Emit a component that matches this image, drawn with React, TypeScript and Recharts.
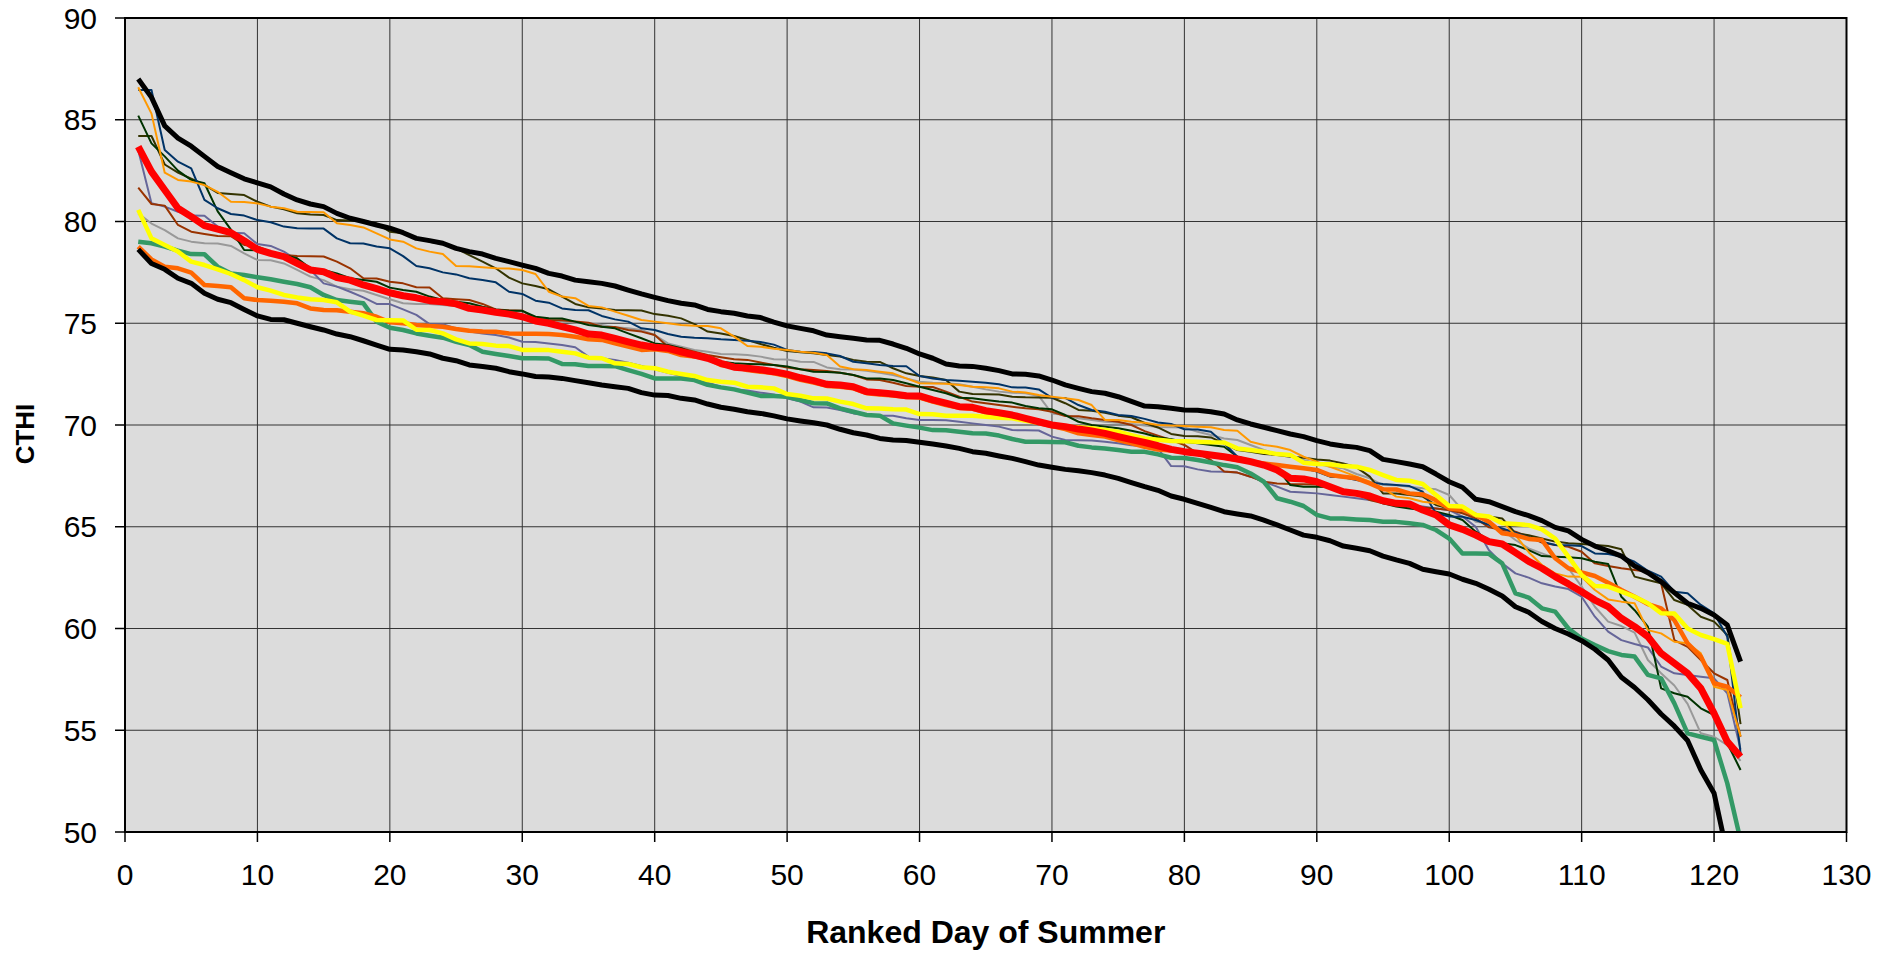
import React from 'react';
import { LineChart, Line, XAxis, YAxis, CartesianGrid, ReferenceArea } from 'recharts';

const FONT = '"Liberation Sans", Arial, Helvetica, sans-serif';

// categories: ranked day 1..122
const days: number[] = [
  1,2,3,4,5,6,7,8,9,10,11,12,13,14,15,16,17,18,19,20,
  21,22,23,24,25,26,27,28,29,30,31,32,33,34,35,36,37,38,39,40,
  41,42,43,44,45,46,47,48,49,50,51,52,53,54,55,56,57,58,59,60,
  61,62,63,64,65,66,67,68,69,70,71,72,73,74,75,76,77,78,79,80,
  81,82,83,84,85,86,87,88,89,90,91,92,93,94,95,96,97,98,99,100,
  101,102,103,104,105,106,107,108,109,110,111,112,113,114,115,116,117,118,119,120,
  121,122,
];

const xTicks = [0, 10, 20, 30, 40, 50, 60, 70, 80, 90, 100, 110, 120, 130];
const yTicks = [50, 55, 60, 65, 70, 75, 80, 85, 90];

const maxBlack = [
  87.0,86.1,84.7,84.1,83.7,83.2,82.7,82.4,82.1,81.9,81.7,81.35,81.06,80.86,80.73,80.4,80.16,80.0,79.83,79.67,
  79.45,79.17,79.06,78.93,78.68,78.52,78.4,78.19,78.03,77.86,77.7,77.45,77.32,77.12,77.04,76.96,76.83,76.63,76.44,76.27,
  76.11,75.98,75.9,75.68,75.57,75.49,75.36,75.28,75.06,74.87,74.75,74.63,74.42,74.34,74.26,74.18,74.16,73.98,73.77,73.49,
  73.28,73.0,72.9,72.88,72.79,72.67,72.51,72.49,72.41,72.21,71.97,71.8,71.64,71.56,71.39,71.16,70.93,70.9,70.82,70.74,
  70.72,70.65,70.54,70.25,70.05,69.89,69.72,69.56,69.43,69.23,69.07,68.97,68.9,68.74,68.31,68.2,68.08,67.95,67.59,67.21,
  66.94,66.35,66.23,65.99,65.74,65.55,65.3,64.97,64.8,64.38,64.05,63.82,63.56,63.07,62.74,62.3,61.76,61.24,60.99,60.66,
  60.17,58.37,
];

const minBlack = [
  78.63,77.94,77.65,77.21,76.96,76.47,76.18,76.01,75.68,75.36,75.19,75.17,75.0,74.83,74.67,74.47,74.34,74.14,73.93,73.72,
  73.69,73.6,73.49,73.28,73.16,72.95,72.87,72.79,72.62,72.51,72.38,72.36,72.29,72.18,72.08,71.97,71.88,71.8,71.59,71.47,
  71.45,71.31,71.23,71.03,70.87,70.77,70.65,70.57,70.45,70.3,70.2,70.11,70.0,69.79,69.62,69.51,69.34,69.26,69.24,69.15,
  69.07,68.97,68.85,68.69,68.61,68.48,68.36,68.2,68.03,67.92,67.82,67.75,67.66,67.54,67.38,67.17,66.97,66.79,66.51,66.35,
  66.15,65.95,65.74,65.63,65.53,65.33,65.09,64.84,64.59,64.48,64.31,64.05,63.94,63.82,63.56,63.37,63.2,62.91,62.79,62.68,
  62.42,62.22,61.93,61.6,61.07,60.8,60.34,60.0,59.73,59.4,58.98,58.45,57.6,57.1,56.5,55.8,55.2,54.5,53.05,51.9,
  48.9,46.5,
];

const redMean = [
  83.68,82.45,81.55,80.65,80.24,79.8,79.63,79.45,79.06,78.63,78.43,78.27,77.94,77.62,77.53,77.24,77.12,76.88,76.7,76.5,
  76.35,76.25,76.11,76.06,75.95,75.73,75.65,75.54,75.45,75.32,75.11,75.0,74.83,74.67,74.47,74.42,74.26,74.09,73.93,73.82,
  73.77,73.6,73.44,73.28,73.03,72.84,72.79,72.72,72.62,72.5,72.32,72.18,72.0,71.97,71.88,71.64,71.59,71.52,71.44,71.43,
  71.23,71.07,70.9,70.87,70.7,70.6,70.49,70.33,70.16,70.0,69.92,69.8,69.71,69.59,69.43,69.28,69.14,68.98,68.8,68.69,
  68.61,68.53,68.44,68.33,68.2,68.03,67.79,67.38,67.35,67.21,66.97,66.72,66.64,66.51,66.28,66.15,66.12,65.82,65.58,65.09,
  64.87,64.59,64.27,64.15,63.73,63.3,62.96,62.55,62.19,61.81,61.4,61.07,60.5,60.09,59.6,58.78,58.29,57.8,57.06,55.83,
  54.44,53.7,
];

const yellowSeries = [
  80.57,79.17,78.85,78.52,78.03,77.86,77.65,77.42,77.12,76.77,76.6,76.39,76.27,76.18,76.14,76.03,75.57,75.37,75.16,75.15,
  75.14,74.68,74.67,74.5,74.21,74.01,73.98,73.9,73.88,73.69,73.69,73.68,73.6,73.52,73.31,73.28,73.03,73.0,72.84,72.79,
  72.62,72.51,72.41,72.21,72.13,72.08,71.88,71.85,71.8,71.52,71.44,71.31,71.3,71.15,71.03,70.82,70.81,70.77,70.76,70.54,
  70.53,70.46,70.46,70.45,70.41,70.36,70.33,70.21,70.11,70.0,69.92,69.89,69.84,69.75,69.67,69.5,69.34,69.28,69.21,69.2,
  69.18,69.15,69.14,68.85,68.77,68.69,68.57,68.53,68.15,68.08,68.07,67.98,67.95,67.79,67.54,67.3,67.26,67.1,66.56,66.02,
  65.99,65.58,65.5,65.17,65.14,65.08,64.87,64.42,63.53,62.63,62.09,62.06,61.81,61.56,61.24,60.75,60.74,60.0,59.68,59.48,
  59.24,56.08,
];

const greenSeries = [
  79.01,78.93,78.77,78.57,78.4,78.39,77.78,77.45,77.37,77.26,77.16,77.04,76.93,76.77,76.39,76.14,76.06,75.98,75.08,74.78,
  74.67,74.5,74.39,74.29,74.09,73.93,73.6,73.49,73.39,73.28,73.28,73.27,73.0,72.99,72.9,72.9,72.89,72.7,72.51,72.29,
  72.29,72.28,72.21,71.97,71.85,71.75,71.59,71.43,71.42,71.39,71.23,71.07,71.06,70.82,70.65,70.49,70.46,70.08,69.97,69.87,
  69.75,69.74,69.67,69.59,69.58,69.48,69.31,69.18,69.18,69.17,69.15,68.98,68.9,68.85,68.77,68.69,68.68,68.56,68.39,68.38,
  68.28,68.16,68.03,67.92,67.62,67.21,66.4,66.23,66.02,65.58,65.41,65.4,65.36,65.33,65.25,65.24,65.17,65.09,64.84,64.42,
  63.69,63.68,63.67,63.2,61.73,61.52,60.99,60.83,60.0,59.51,59.19,58.89,58.7,58.62,57.72,57.55,56.32,54.85,54.68,54.52,
  52.39,49.6,
];

const orangeThick = [
  78.77,78.14,77.78,77.7,77.49,76.88,76.83,76.77,76.23,76.14,76.11,76.06,75.98,75.73,75.65,75.64,75.57,75.49,75.32,75.05,
  75.0,74.91,74.86,74.83,74.72,74.63,74.59,74.58,74.5,74.49,74.48,74.47,74.42,74.34,74.21,74.18,74.01,73.85,73.69,73.72,
  73.64,73.44,73.36,73.28,72.95,72.87,72.7,72.62,72.54,72.4,72.22,72.08,71.92,71.88,71.8,71.56,71.5,71.45,71.38,71.35,
  71.15,70.98,70.85,70.8,70.62,70.52,70.42,70.27,70.1,69.95,69.8,69.59,69.51,69.43,69.26,69.1,68.93,68.8,68.75,68.69,
  68.6,68.5,68.4,68.28,68.2,68.11,68.03,67.95,67.87,67.79,67.54,67.46,67.38,67.13,66.84,66.83,66.64,66.59,66.31,65.9,
  65.82,65.58,65.25,64.68,64.59,64.4,64.35,63.45,62.96,62.76,62.58,62.25,61.89,61.56,61.2,60.99,60.41,59.27,58.62,57.31,
  57.14,56.62,
];

const orangeThin = [
  86.6,85.3,82.4,82.04,81.96,81.79,81.46,80.97,80.96,80.89,80.73,80.65,80.48,80.47,80.46,79.91,79.83,79.71,79.42,79.12,
  79.01,78.68,78.52,78.4,77.81,77.8,77.75,77.7,77.69,77.62,77.42,76.55,76.31,76.23,75.85,75.78,75.57,75.37,75.16,75.08,
  75.0,74.91,74.88,74.87,74.75,74.34,73.88,73.85,73.75,73.69,73.6,73.55,73.44,72.87,72.74,72.7,72.62,72.54,72.29,72.05,
  72.04,72.03,71.97,71.88,71.85,71.8,71.64,71.6,71.47,71.39,71.31,71.23,70.98,70.25,70.24,70.16,70.11,70.0,69.98,69.95,
  69.92,69.89,69.75,69.72,69.18,69.02,68.93,68.77,68.44,68.2,67.95,67.71,67.46,67.21,66.89,66.48,66.4,66.23,66.15,65.9,
  65.82,65.58,65.5,65.25,64.59,63.75,63.12,62.71,62.55,62.54,61.89,61.43,61.32,61.24,59.92,59.76,59.35,59.27,58.78,57.14,
  56.98,54.7,
];

const darkBlue = [
  86.46,86.46,83.51,82.94,82.61,81.06,80.65,80.37,80.29,80.07,79.96,79.75,79.67,79.66,79.65,79.17,78.93,78.92,78.77,78.68,
  78.3,77.81,77.7,77.5,77.4,77.21,77.12,77.01,76.55,76.44,76.11,76.01,75.73,75.65,75.64,75.36,75.19,75.08,74.75,74.67,
  74.47,74.34,74.29,74.26,74.21,74.18,74.14,74.08,73.95,73.69,73.6,73.59,73.52,73.39,73.11,73.03,72.95,72.9,72.89,72.41,
  72.29,72.21,72.18,72.13,72.08,72.0,71.85,71.84,71.75,71.34,71.33,70.98,70.74,70.65,70.49,70.44,70.3,70.12,70.05,69.79,
  69.78,69.67,69.1,68.44,68.28,68.08,68.07,67.95,67.87,67.71,67.46,67.43,67.3,67.17,67.1,67.05,67.0,66.72,65.66,65.5,
  65.49,65.33,65.09,64.92,64.71,64.47,64.27,64.1,64.09,64.05,63.69,63.66,63.53,63.28,62.84,62.55,61.81,61.73,61.16,60.75,
  59.6,53.87,
];

const darkGreen = [
  85.2,83.84,83.2,82.5,82.04,81.88,80.5,79.6,78.6,78.58,78.52,78.35,78.19,77.7,77.62,77.45,77.21,77.12,77.04,76.75,
  76.63,76.55,76.31,76.14,76.06,75.98,75.81,75.68,75.62,75.61,75.32,75.24,75.23,75.08,74.91,74.83,74.75,74.5,74.26,74.01,
  73.93,73.77,73.52,73.36,73.11,73.03,73.0,72.98,72.95,72.87,72.74,72.62,72.61,72.57,72.46,72.29,72.28,72.21,72.05,71.88,
  71.72,71.56,71.34,71.31,71.23,71.15,71.1,70.93,70.82,70.77,70.49,70.16,70.0,69.92,69.84,69.72,69.58,69.4,69.3,69.18,
  69.1,69.02,68.93,68.44,68.2,68.03,67.87,67.05,66.97,66.96,66.95,66.81,66.68,66.48,66.15,65.99,65.9,65.82,65.74,65.58,
  65.33,64.76,64.35,64.19,64.1,63.85,63.56,63.53,63.5,63.45,63.28,63.17,61.56,60.9,60.09,57.06,56.82,56.65,56.08,55.75,
  54.36,53.05,
];

const olive = [
  84.2,84.2,82.8,82.4,82.1,81.8,81.4,81.35,81.3,80.97,80.73,80.6,80.4,80.35,80.32,80.07,80.05,80.04,79.9,79.5,
  79.42,79.17,79.01,78.89,78.68,78.35,78.03,77.7,77.24,76.96,76.83,76.67,76.31,75.95,75.78,75.73,75.65,75.64,75.63,75.45,
  75.37,75.24,74.96,74.59,74.5,74.37,74.18,73.98,73.8,73.64,73.57,73.52,73.44,73.36,73.2,73.11,73.1,72.79,72.54,72.41,
  72.33,72.21,71.64,71.52,71.51,71.5,71.39,71.36,71.35,71.34,71.07,70.74,70.7,70.6,70.46,70.38,70.1,69.88,69.56,69.46,
  69.45,69.39,69.1,68.77,68.69,68.57,68.53,68.44,68.39,68.31,68.25,68.11,67.92,67.46,66.64,66.63,66.56,66.48,66.07,65.9,
  65.74,65.53,65.5,65.41,64.68,64.58,64.42,64.27,64.19,64.15,64.1,64.05,63.89,62.55,62.38,62.22,61.4,61.16,60.58,60.34,
  59.68,55.3,
];

const brown = [
  81.66,80.86,80.78,79.83,79.5,79.39,79.29,79.28,78.85,78.77,78.52,78.35,78.3,78.29,78.28,78.03,77.7,77.21,77.2,77.04,
  76.96,76.77,76.76,76.23,76.18,76.14,75.95,75.68,75.64,75.62,75.24,75.16,75.15,75.08,75.03,74.83,74.82,74.67,74.59,74.42,
  73.85,73.77,73.6,73.44,73.33,73.23,73.2,73.07,72.95,72.83,72.74,72.7,72.65,72.57,72.46,72.24,72.21,72.08,71.92,71.88,
  71.87,71.64,71.39,71.15,71.07,70.98,70.9,70.82,70.77,70.65,70.44,70.43,70.33,70.25,70.16,70.0,69.7,69.48,69.26,69.02,
  68.61,68.28,67.71,67.66,67.46,67.21,67.13,67.1,67.09,67.08,66.97,66.81,66.64,66.31,66.15,66.07,65.99,65.95,65.9,65.82,
  65.66,65.41,64.97,64.84,64.76,64.5,64.22,64.1,64.02,63.77,63.2,63.07,62.96,62.87,62.79,62.22,59.43,59.1,58.45,57.8,
  57.47,54.68,
];

const purple = [
  83.5,80.9,80.73,80.48,80.29,80.28,79.75,79.45,79.42,78.89,78.8,78.52,78.1,77.62,76.96,76.8,76.55,76.27,75.95,75.94,
  75.68,75.41,74.96,74.95,74.75,74.59,74.5,74.42,74.3,74.09,74.08,74.01,73.93,73.82,73.36,73.28,73.2,73.06,72.9,72.74,
  72.57,72.41,72.21,72.08,71.88,71.75,71.69,71.59,71.5,71.31,71.15,70.87,70.86,70.74,70.57,70.49,70.46,70.45,70.33,70.25,
  70.24,70.23,70.16,70.08,70.0,69.92,69.75,69.74,69.73,69.43,69.26,69.25,69.24,69.18,69.1,69.0,68.95,68.85,67.98,67.97,
  67.82,67.71,67.7,67.66,67.46,67.21,66.97,66.72,66.68,66.64,66.56,66.48,66.4,66.31,66.23,66.18,66.07,65.99,65.9,65.82,
  65.5,65.0,63.85,63.2,62.71,62.5,62.22,62.06,61.94,61.56,60.58,59.85,59.43,59.24,59.07,58.13,57.8,57.72,57.63,57.55,
  56.82,54.05,
];

const gray = [
  80.4,79.9,79.58,79.17,79.01,78.93,78.92,78.8,78.43,78.11,78.1,77.94,77.62,77.29,77.12,76.8,76.67,76.6,76.39,76.18,
  75.98,75.95,75.94,75.9,75.85,75.81,75.73,75.62,75.52,75.45,75.24,75.16,75.08,75.03,75.0,74.91,74.8,74.75,74.67,74.42,
  74.01,73.85,73.69,73.6,73.49,73.48,73.44,73.36,73.23,73.22,73.11,73.1,72.83,72.74,72.73,72.67,72.57,72.46,72.29,72.13,
  72.08,72.05,72.0,71.88,71.75,71.64,71.59,71.56,71.43,70.57,70.49,70.33,70.25,70.16,70.11,70.05,69.97,69.9,69.89,69.88,
  69.67,69.51,69.34,69.26,69.02,68.77,68.57,68.48,68.28,68.11,67.95,67.87,67.59,67.38,67.05,67.04,66.97,66.89,66.84,66.56,
  65.82,65.25,65.17,64.84,64.35,63.94,63.69,63.45,62.96,62.06,61.07,60.34,60.12,59.8,58.45,57.8,57.2,56.3,54.85,54.68,
  54.27,53.5,
];

type S = { key: string; values: number[]; color: string; width: number };

// drawn bottom -> top
const seriesList: S[] = [
  { key: 'gray', values: gray, color: '#999999', width: 2 },
  { key: 'purple', values: purple, color: '#666699', width: 2 },
  { key: 'brown', values: brown, color: '#993300', width: 2 },
  { key: 'olive', values: olive, color: '#333300', width: 2 },
  { key: 'darkGreen', values: darkGreen, color: '#003300', width: 2 },
  { key: 'darkBlue', values: darkBlue, color: '#003366', width: 2 },
  { key: 'orangeThin', values: orangeThin, color: '#FF9900', width: 2 },
  { key: 'green', values: greenSeries, color: '#339966', width: 4.5 },
  { key: 'orangeThick', values: orangeThick, color: '#FF6600', width: 4.5 },
  { key: 'minBlack', values: minBlack, color: '#000000', width: 5 },
  { key: 'maxBlack', values: maxBlack, color: '#000000', width: 5 },
  { key: 'yellow', values: yellowSeries, color: '#FFFF00', width: 4.5 },
  { key: 'red', values: redMean, color: '#FF0000', width: 7 },
];

const rows = days.map((d, i) => {
  const r: Record<string, number> = { day: d };
  seriesList.forEach((s) => {
    r[s.key] = s.values[i];
  });
  return r;
});

const yTitle = (p: any) => {
  const vb = p.viewBox || {};
  const cx = (vb.x || 0) + 25;
  const cy = (vb.y || 0) + (vb.height || 0) / 2 + 9;
  return (
    <text
      x={cx}
      y={cy}
      transform={`rotate(-90, ${cx}, ${cy})`}
      textAnchor="middle"
      dominantBaseline="central"
      fontFamily={FONT}
      fontWeight="bold"
      fontSize={26}
      fill="#000"
    >
      CTHI
    </text>
  );
};

const xTitle = (p: any) => {
  const vb = p.viewBox || {};
  const cx = (vb.x || 0) + (vb.width || 0) / 2;
  const by = (vb.y || 0) + 111;
  return (
    <text x={cx} y={by} textAnchor="middle" fontFamily={FONT} fontWeight="bold" fontSize={32} fill="#000">
      Ranked Day of Summer
    </text>
  );
};

export default function App() {
  return (
    <div style={{ position: 'absolute', left: 0, top: 0, width: 1880, height: 954 }}>
      <LineChart
        width={1880}
        height={954}
        data={rows}
        margin={{ top: 18, right: 33.5, bottom: 0, left: 0 }}
      >
        <CartesianGrid stroke="#333333" strokeWidth={1} fill="#DCDCDC" fillOpacity={1} />
        <XAxis
          dataKey="day"
          type="number"
          domain={[0, 130]}
          ticks={xTicks}
          interval={0}
          height={122}
          tickSize={10}
          tickMargin={22}
          axisLine={{ stroke: '#000', strokeWidth: 2 }}
          tickLine={{ stroke: '#000', strokeWidth: 1.5 }}
          tick={{ fill: '#000', fontSize: 30, fontFamily: FONT }}
          label={{ content: xTitle }}
        />
        <YAxis
          type="number"
          domain={[50, 90]}
          ticks={yTicks}
          interval={0}
          allowDataOverflow
          width={125}
          tickSize={10}
          tickMargin={18}
          axisLine={{ stroke: '#000', strokeWidth: 2 }}
          tickLine={{ stroke: '#000', strokeWidth: 1.5 }}
          tick={{ fill: '#000', fontSize: 30, fontFamily: FONT }}
          label={{ content: yTitle }}
        />
        <ReferenceArea x1={0} x2={130} y1={50} y2={90} fill="none" fillOpacity={0} stroke="#000" strokeWidth={2} />
        {seriesList.map((s) => (
          <Line
            key={s.key}
            type="linear"
            dataKey={s.key}
            stroke={s.color}
            strokeWidth={s.width}
            strokeLinejoin="round"
            dot={false}
            activeDot={false}
            isAnimationActive={false}
          />
        ))}
      </LineChart>
    </div>
  );
}
